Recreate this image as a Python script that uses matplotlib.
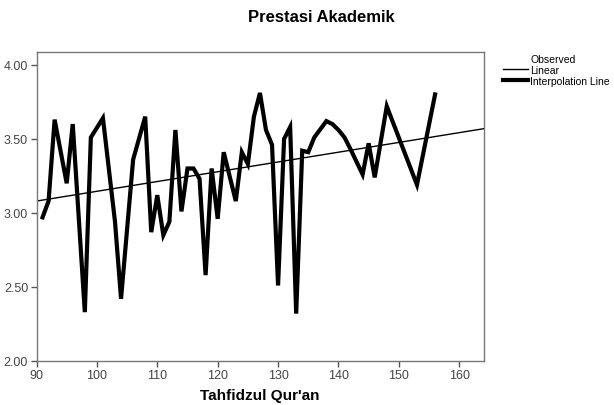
import numpy as np
import matplotlib
matplotlib.use('Agg')
import matplotlib.pyplot as plt
from matplotlib.lines import Line2D

plt.rcParams['font.family'] = ['Liberation Sans', 'DejaVu Sans']

# Tahfidzul Qur'an score vs mean Prestasi Akademik (interpolation line)
tahfidz = [91, 92, 93, 95, 96, 98, 99, 101, 103, 104, 106, 108, 109, 110,
           111, 112, 113, 114, 115, 116, 117, 118, 119, 120, 121, 123, 124,
           125, 126, 127, 128, 129, 130, 131, 132, 133, 134, 135, 136, 138,
           139, 140, 141, 142, 144, 145, 146, 148, 153, 156]
prestasi = [2.97, 3.08, 3.63, 3.20, 3.60, 2.33, 3.51, 3.64, 2.94, 2.42,
            3.36, 3.65, 2.87, 3.12, 2.85, 2.94, 3.56, 3.01, 3.30, 3.30,
            3.23, 2.58, 3.30, 2.96, 3.41, 3.08, 3.41, 3.33, 3.65, 3.81,
            3.56, 3.46, 2.51, 3.50, 3.58, 2.32, 3.42, 3.41, 3.51, 3.62,
            3.60, 3.56, 3.51, 3.43, 3.26, 3.47, 3.24, 3.72, 3.19, 3.80]

# linear fit line
fit_intercept_at_90 = 3.08
fit_slope = 0.0066

x_ticks = [90, 100, 110, 120, 130, 140, 150, 160]
y_ticks = [2.00, 2.50, 3.00, 3.50, 4.00]

fig = plt.figure(figsize=(6.14, 4.06), dpi=100)
ax = fig.add_axes([36.5 / 614, 1 - 362 / 406, (484 - 36.5) / 614, (362 - 52.5) / 406])

xlim = (90, 164.1)
fx = np.array(xlim)
ax.plot(fx, fit_intercept_at_90 + fit_slope * (fx - 90), color='black', lw=1.0)
ax.plot(tahfidz, prestasi, color='black', lw=3.0, solid_joinstyle='miter')

ax.set_xlim(*xlim)
ax.set_ylim(2.0, 4.09)
ax.set_xticks(x_ticks)
ax.set_yticks(y_ticks)
ax.set_yticklabels([f'{v:.2f}' for v in y_ticks])
ax.tick_params(direction='out', length=4, width=1, colors='#555555',
               labelsize=9, labelcolor='#444444', pad=2)
for s in ax.spines.values():
    s.set_color('#777777')
    s.set_linewidth(1.0)

ax.set_xlabel("Tahfidzul Qur'an", fontsize=11, fontweight='bold', labelpad=5)
fig.text(321 / 614, 1 - 17 / 406, 'Prestasi Akademik', ha='center', va='center',
         fontsize=12, fontweight='bold')

handles = [Line2D([], [], linestyle='none'),
           Line2D([], [], color='black', lw=1.0),
           Line2D([], [], color='black', lw=3.0)]
labels = ['Observed', 'Linear', 'Interpolation Line']
fig.legend(handles, labels, loc='upper left', bbox_to_anchor=(503 / 614, 1 - 55 / 406),
           frameon=False, fontsize=7.5, handlelength=2.4, handletextpad=0.2,
           labelspacing=0.1, borderpad=0, borderaxespad=0)

fig.savefig('out.png', dpi=100)
